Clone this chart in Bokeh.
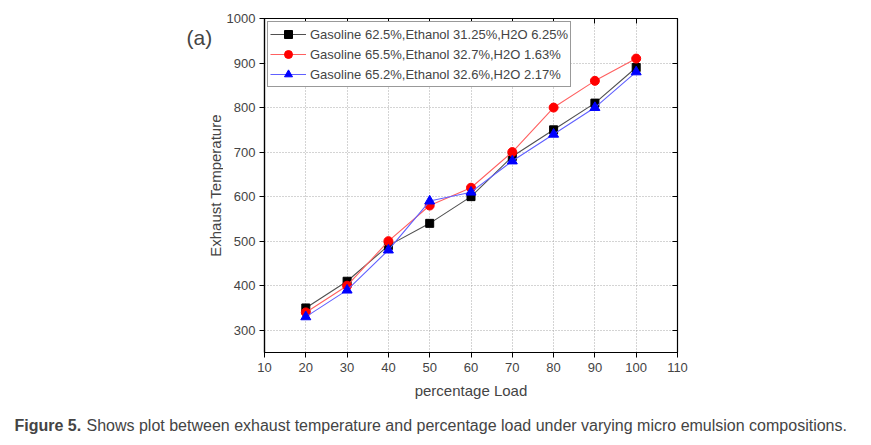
import math
from bokeh.plotting import figure
from bokeh.models import Range1d, LinearAxis, Label, FixedTicker
from bokeh.layouts import column, row
from bokeh.embed import file_html
from bokeh.resources import INLINE

load = [20, 30, 40, 50, 60, 70, 80, 90, 100]
s1_name = "Gasoline 62.5%,Ethanol 31.25%,H2O 6.25%"
s1 = [350, 410, 490, 540, 600, 690, 750, 810, 890]
s2_name = "Gasoline 65.5%,Ethanol 32.7%,H2O 1.63%"
s2 = [340, 400, 500, 580, 620, 700, 800, 860, 910]
s3_name = "Gasoline 65.2%,Ethanol 32.6%,H2O 2.17%"
s3 = [330, 390, 480, 590, 610, 680, 740, 800, 880]
x_ticks = [10, 20, 30, 40, 50, 60, 70, 80, 90, 100, 110]
y_ticks = [300, 400, 500, 600, 700, 800, 900, 1000]

FONT = "Liberation Sans"


def blank(width, height):
    f = figure(width=width, height=height, output_backend="svg", toolbar_location=None,
               x_range=Range1d(0, 1), y_range=Range1d(0, 1),
               min_border=0, x_axis_type=None, y_axis_type=None)
    f.grid.visible = False
    f.outline_line_color = None
    return f


p = figure(width=632, height=413, output_backend="svg", toolbar_location=None,
           x_range=Range1d(10, 110), y_range=Range1d(250, 1000),
           min_border_left=38, min_border_right=178, min_border_top=18, min_border_bottom=61)
p.outline_line_color = "black"
p.outline_line_width = 1.2

for ax in (p.xaxis[0], p.yaxis[0]):
    ax.major_label_text_font = FONT
    ax.major_label_text_font_size = "13px"
    ax.axis_label_text_font = FONT
    ax.axis_label_text_font_size = "15px"
    ax.axis_label_text_font_style = "normal"
    ax.major_tick_out = 5
    ax.major_tick_in = 0
    ax.minor_tick_out = 0
    ax.minor_tick_in = 0
    ax.axis_line_width = 1.2
p.xaxis.ticker = FixedTicker(ticks=x_ticks)
p.yaxis.ticker = FixedTicker(ticks=y_ticks)
p.yaxis.major_label_standoff = 4
p.xaxis.axis_label = "percentage Load"
p.xaxis.axis_label_standoff = 7

top = LinearAxis(ticker=FixedTicker(ticks=x_ticks), major_label_text_font_size="1px",
                 major_label_text_color=None,
                 major_tick_in=5, major_tick_out=0, minor_tick_in=0, minor_tick_out=0,
                 major_label_standoff=0)
right = LinearAxis(ticker=FixedTicker(ticks=y_ticks), major_label_text_font_size="1px",
                   major_label_text_color=None,
                   major_tick_in=5, major_tick_out=0, minor_tick_in=0, minor_tick_out=0,
                   major_label_standoff=0)
p.add_layout(top, "above")
p.add_layout(right, "right")

p.xgrid.ticker = FixedTicker(ticks=x_ticks)
p.ygrid.ticker = FixedTicker(ticks=y_ticks)
for g in (p.xgrid[0], p.ygrid[0]):
    g.grid_line_color = "#a8a8a8"
    g.grid_line_dash = "1 2"
    g.grid_line_width = 1

p.line(load, s1, line_color="#505050", line_width=1.1, legend_label=s1_name)
p.scatter(load, s1, marker="square", size=8, color="black", legend_label=s1_name)
p.line(load, s2, line_color="#ff6060", line_width=1.1, legend_label=s2_name)
p.scatter(load, s2, marker="circle", size=9, color="red", legend_label=s2_name)
p.line(load, s3, line_color="#6060ff", line_width=1.1, legend_label=s3_name)
p.scatter(load, s3, marker="triangle", size=10, color="blue", legend_label=s3_name)

lg = p.legend[0]
lg.location = "top_left"
lg.margin = 3
lg.padding = 2
lg.spacing = 0
lg.label_text_font = FONT
lg.label_text_font_size = "13px"
lg.label_height = 20
lg.glyph_height = 20
lg.glyph_width = 36
lg.label_standoff = 4
lg.border_line_color = "#333333"
lg.border_line_width = 1
lg.background_fill_alpha = 1

# left strip: panel tag and y-axis title
fa = blank(223, 413)
fa.add_layout(Label(x=186, y=315, x_units="screen", y_units="screen", text="(a)",
                    text_baseline="middle", text_font=FONT, text_font_size="21px"))
fa.add_layout(Label(x=215, y=167, x_units="screen", y_units="screen", text="Exhaust Temperature",
                    angle=math.pi / 2, text_align="center", text_baseline="middle",
                    text_font=FONT, text_font_size="15px"))

fc = blank(855, 24)
fc.add_layout(Label(x=14, y=12, x_units="screen", y_units="screen", text="Figure 5.",
                    text_baseline="middle", text_font=FONT, text_font_size="16px",
                    text_font_style="bold"))
fc.add_layout(Label(x=86, y=12, x_units="screen", y_units="screen",
                    text="Shows plot between exhaust temperature and percentage load under varying micro emulsion compositions.",
                    text_baseline="middle", text_font=FONT, text_font_size="16px"))

layout = column(row(fa, p), fc)
open("out.html", "w").write(file_html(layout, INLINE))
